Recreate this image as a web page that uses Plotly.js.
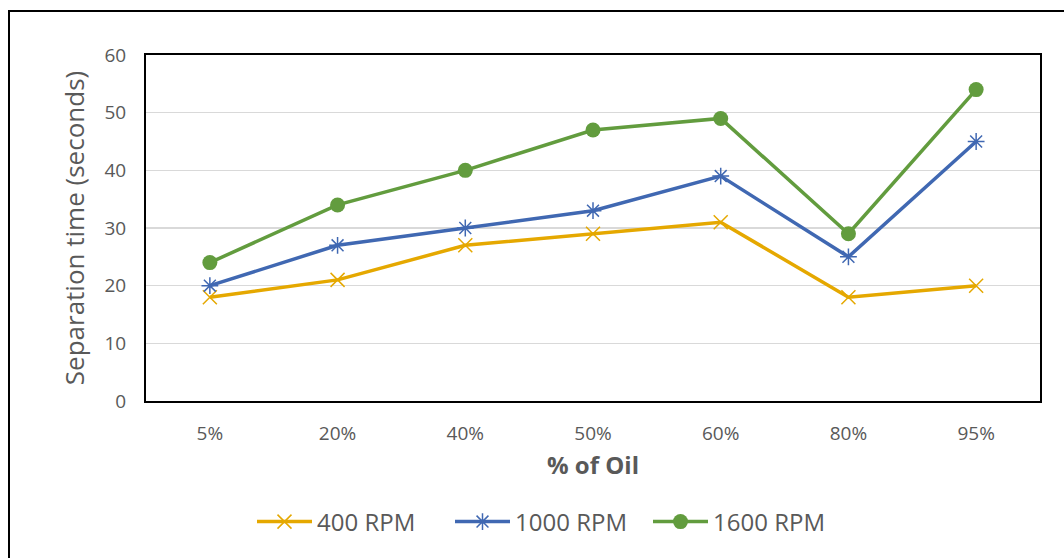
<!DOCTYPE html>
<html>
<head>
<meta charset="utf-8">
<script src="https://cdn.plot.ly/plotly-3.0.1.min.js"></script>
<style>
  html, body { margin: 0; padding: 0; background: #fff; }
  #chart { width: 1064px; height: 558px; }
</style>
</head>
<body>
<div id="chart"></div>
<script>
// Oil fraction categories and separation times per rotor speed
const oilShare = ['5%', '20%', '40%', '50%', '60%', '80%', '95%'];
const rpm400 = [18, 21, 27, 29, 31, 18, 20];
const rpm1000 = [20, 27, 30, 33, 39, 25, 45];
const rpm1600 = [24, 34, 40, 47, 49, 29, 54];
const seriesNames = ['400 RPM', '1000 RPM', '1600 RPM'];

const FONT = 'Open Sans, Liberation Sans, sans-serif';
const GRAY = '#595959';

const traces = [
  {
    x: oilShare, y: rpm400, name: seriesNames[0], type: 'scatter', mode: 'lines+markers',
    line: { color: '#E5A800', width: 3.5 },
    marker: { symbol: 'x-thin-open', size: 14, line: { color: '#E5A800', width: 1.5 } }
  },
  {
    x: oilShare, y: rpm1000, name: seriesNames[1], type: 'scatter', mode: 'lines+markers',
    line: { color: '#4068B2', width: 3.5 },
    marker: { symbol: 'asterisk-open', size: 14, line: { color: '#4068B2', width: 1.5 } }
  },
  {
    x: oilShare, y: rpm1600, name: seriesNames[2], type: 'scatter', mode: 'lines+markers',
    line: { color: '#629C3E', width: 3.5 },
    marker: { symbol: 'circle', size: 15, color: '#629C3E' }
  }
];

// margins place the plot box; the outer frame is drawn relative to it
const M = { l: 146, r: 24, t: 55, b: 157 };
const PW = 1064 - M.l - M.r, PH = 558 - M.t - M.b;
const px = v => (v - M.l) / PW;
const py = v => (558 - M.b - v) / PH;

const layout = {
  width: 1064, height: 558,
  margin: M,
  paper_bgcolor: '#fff', plot_bgcolor: '#fff',
  font: { family: FONT, color: GRAY },
  showlegend: true,
  legend: {
    orientation: 'h', x: px(549), xanchor: 'center', y: py(522), yanchor: 'middle',
    font: { family: FONT, size: 24, color: GRAY },
    itemwidth: 55, entrywidth: 128, traceorder: 'normal'
  },
  xaxis: {
    type: 'category', categoryorder: 'array', categoryarray: oilShare,
    range: [-0.5, oilShare.length - 0.5],
    showgrid: false, zeroline: false,
    showline: true, linecolor: '#000', linewidth: 2, mirror: true,
    ticks: '', tickfont: { family: FONT, size: 19, color: GRAY },
    ticklabelstandoff: 14,
    title: { text: '% of Oil', font: { family: FONT, size: 24, color: GRAY, weight: 'bold' }, standoff: 12 }
  },
  yaxis: {
    range: [0, 60], dtick: 10, tick0: 0,
    showgrid: true, gridcolor: '#D9D9D9', gridwidth: 1.3, zeroline: false,
    showline: true, linecolor: '#000', linewidth: 2, mirror: true,
    ticks: '', tickfont: { family: FONT, size: 19, color: GRAY },
    ticklabelstandoff: 14,
    title: { text: 'Separation time (seconds)', font: { family: FONT, size: 26, color: GRAY }, standoff: 12 }
  },
  shapes: [
    {
      type: 'rect', xref: 'paper', yref: 'paper', layer: 'above',
      x0: px(9), x1: px(1080), y0: py(600), y1: py(11),
      line: { color: '#000', width: 2 }, fillcolor: 'rgba(0,0,0,0)'
    }
  ]
};

Plotly.newPlot('chart', traces, layout, { staticPlot: true, displayModeBar: false });
</script>
</body>
</html>
